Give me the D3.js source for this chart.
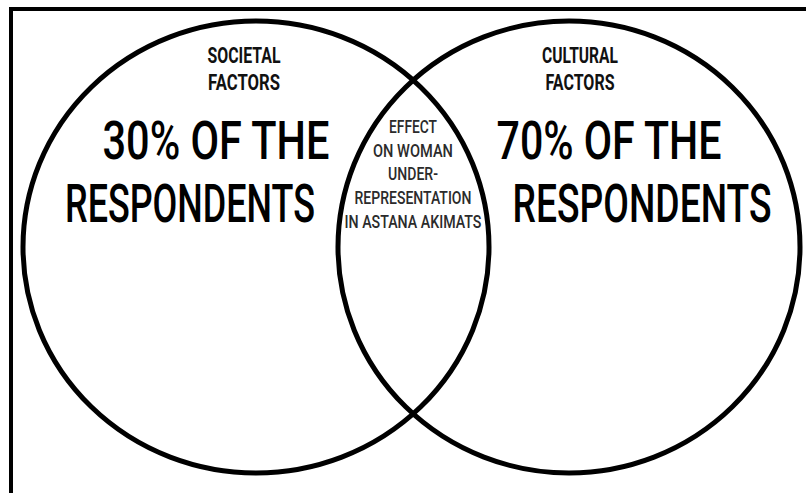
<!DOCTYPE html>
<html>
<head>
<meta charset="utf-8">
<script src="https://cdn.jsdelivr.net/npm/d3@7"></script>
<style>
  html, body { margin: 0; padding: 0; background: #fff; }
  svg { display: block; }
  text { font-family: Roboto, "DejaVu Sans Condensed", sans-serif; }
</style>
</head>
<body>
<svg width="806" height="493"></svg>
<script>
// data
var setNames = [["SOCIETAL", "FACTORS"], ["CULTURAL", "FACTORS"]];
var setShares = [30, 70];
var overlapLines = ["EFFECT", "ON WOMAN", "UNDER-", "REPRESENTATION", "IN ASTANA AKIMATS"];
// end of data

var svg = d3.select("svg");

// frame, cropped on the right and bottom
svg.append("path")
  .attr("d", "M11,493 V9 H806")
  .attr("fill", "none")
  .attr("stroke", "#000")
  .attr("stroke-width", 4);

var x = d3.scaleLinear().domain([0, 1]).range([256, 569]);
var rx = [233, 231], ry = 226, cy = 247;

svg.selectAll("ellipse.set")
  .data(setShares)
  .enter().append("ellipse")
    .attr("class", "set")
    .attr("cx", function(d, i) { return x(i); })
    .attr("cy", cy)
    .attr("rx", function(d, i) { return rx[i]; })
    .attr("ry", ry)
    .attr("fill", "none")
    .attr("stroke", "#000")
    .attr("stroke-width", 5);

// squeeze a text to a given width, like a condensed face
function condensed(sel, cx, cy, w) {
  sel.attr("text-anchor", "middle").each(function(d, i) {
    var nat = this.getComputedTextLength();
    var k = w(d, i) / nat;
    d3.select(this).attr("transform",
      "translate(" + cx(d, i) + "," + cy(d, i) + ") scale(" + k + ",1)");
  });
}

// small titles
var titleX = [244, 580];
var titleW = [[73, 72], [76, 69]];
setNames.forEach(function(lines, i) {
  svg.selectAll(null)
    .data(lines)
    .enter().append("text")
      .attr("font-size", 22)
      .attr("font-weight", 700)
      .attr("fill", "#111")
      .text(function(d) { return d; })
      .call(condensed,
        function() { return titleX[i]; },
        function(d, j) { return 63 + j * 27; },
        function(d, j) { return titleW[i][j]; });
});

// big labels
var bigX = [[216, 609], [190, 642]];
var bigW = [[227, 225], [250, 259]];
setShares.forEach(function(v, i) {
  var lines = [v + "% OF THE", "RESPONDENTS"];
  svg.selectAll(null)
    .data(lines)
    .enter().append("text")
      .attr("font-size", 53)
      .attr("font-weight", 500)
      .attr("fill", "#000")
      .text(function(d) { return d; })
      .call(condensed,
        function(d, j) { return bigX[j][i]; },
        function(d, j) { return 159 + j * 63; },
        function(d, j) { return bigW[j][i]; });
});

// overlap label
var overlapW = [48, 80, 50, 117, 137];
svg.selectAll("text.overlap")
  .data(overlapLines)
  .enter().append("text")
    .attr("class", "overlap")
    .attr("font-size", 17.5)
    .attr("font-weight", 500)
    .attr("fill", "#2b2b2b")
    .text(function(d) { return d; })
    .call(condensed,
      function() { return 413; },
      function(d, i) { return 133 + i * 23.7; },
      function(d, i) { return overlapW[i]; });
</script>
</body>
</html>
